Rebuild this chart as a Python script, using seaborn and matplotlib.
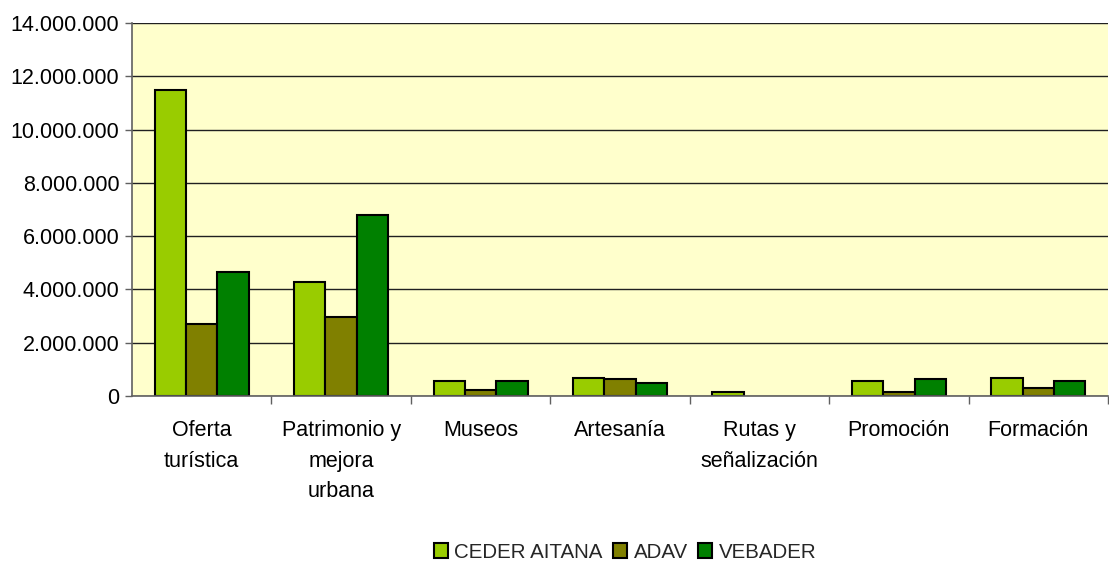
import matplotlib
matplotlib.use("Agg")
import matplotlib.pyplot as plt
import matplotlib.ticker as mticker
import seaborn as sns
import pandas as pd
import numpy as np

categories = ["Oferta\nturística", "Patrimonio y\nmejora\nurbana", "Museos", "Artesanía",
              "Rutas y\nseñalización", "Promoción", "Formación"]
series_names = ["CEDER AITANA", "ADAV", "VEBADER"]
ceder = [11500000, 4270000, 550000, 690000, 160000, 550000, 690000]
adav = [2700000, 2950000, 240000, 620000, 0, 160000, 310000]
vebader = [4650000, 6810000, 550000, 480000, 0, 630000, 550000]
colors = ["#99CC00", "#808000", "#008000"]

rows = []
for name, vals in zip(series_names, [ceder, adav, vebader]):
    for c, v in zip(categories, vals):
        rows.append({"cat": c, "serie": name, "val": v})
df = pd.DataFrame(rows)

sns.set_theme(style="white")
plt.rcParams["font.family"] = ["Liberation Sans", "DejaVu Sans"]

FS = 15.5
fig = plt.figure(figsize=(11.09, 5.65), dpi=100)
ax = fig.add_axes([132/1109, 1 - 396/565, (1108-132)/1109, (396-23)/565])
ax.set_facecolor("#FFFFCC")

sns.barplot(data=df, x="cat", y="val", hue="serie", palette=colors, hue_order=series_names,
            order=categories, width=0.675, edgecolor="black", linewidth=1.5, saturation=1,
            ax=ax, legend=True, errorbar=None)

handles, labels = ax.get_legend_handles_labels()
ax.legend_.remove()

# hide outlines of zero-height bars
for cont in ax.containers:
    for p in cont.patches:
        if p.get_height() == 0:
            p.set_linewidth(0)

ax.set_ylim(0, 14000000)
ax.set_xlim(-0.5, len(categories) - 0.5)
ax.yaxis.set_major_locator(mticker.MultipleLocator(2000000))
ax.yaxis.set_major_formatter(mticker.FuncFormatter(lambda v, p: f"{int(v):,}".replace(",", ".")))
ax.yaxis.grid(True, color="#202020", linewidth=1)
ax.set_axisbelow(True)
ax.set_xlabel("")
ax.set_ylabel("")

for s in ["top", "right"]:
    ax.spines[s].set_visible(False)
for s in ["left", "bottom"]:
    ax.spines[s].set_color("#606060")
    ax.spines[s].set_linewidth(1.2)

ax.tick_params(axis="y", which="major", left=True, length=5, width=1, color="#606060",
               labelsize=FS, pad=4, labelcolor="black")
ax.tick_params(axis="x", which="major", length=0, labelsize=FS, pad=17, labelcolor="black")
ax.set_xticks(np.arange(len(categories)) + 0.5, minor=True)
ax.tick_params(axis="x", which="minor", bottom=True, length=6, width=1, color="#606060")
for lbl in ax.get_xticklabels():
    lbl.set_linespacing(1.62)
    lbl.set_verticalalignment("top")

from matplotlib.patches import Patch
leg_handles = [Patch(facecolor=c, edgecolor="black", linewidth=1.5) for c in colors]
fig.legend(leg_handles, series_names, loc="center", bbox_to_anchor=(625/1109, 1 - 552/565), ncol=3,
           frameon=False, fontsize=14.8, handlelength=0.7, handleheight=0.7,
           handletextpad=0.3, columnspacing=0.5, borderaxespad=0)

fig.savefig("out.png", dpi=100, facecolor="white")
